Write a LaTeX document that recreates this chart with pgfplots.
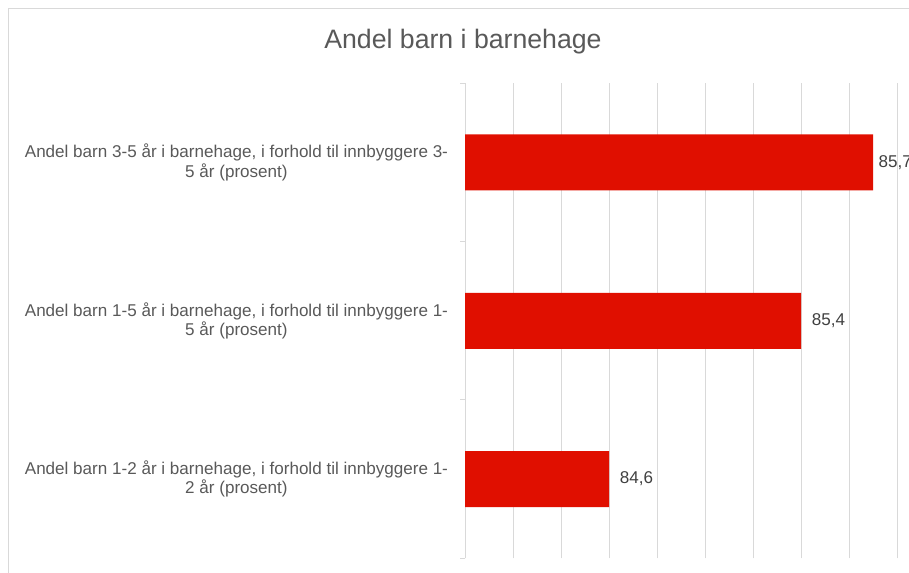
\documentclass[border=0pt]{standalone}
\usepackage{fontspec}
\setmainfont{Liberation Sans}
\usepackage{pgfplots}
\pgfplotsset{compat=1.18}
\definecolor{barred}{HTML}{E00F00}
\definecolor{gridgray}{HTML}{D9D9D9}
\definecolor{labelgray}{HTML}{595959}
\definecolor{valgray}{HTML}{404040}
\begin{document}
\begin{tikzpicture}[x=0.75pt,y=0.75pt]
\useasboundingbox (0,0) rectangle (909,573);
\clip (0,0) rectangle (909,573);
% chart frame (only top and left visible)
\draw[gridgray, line width=0.75pt] (8.3,-5) -- (8.3,564.3) -- (915,564.3);
\node[text=labelgray, font=\fontsize{20}{24}\selectfont, anchor=base] at (463,524.7) {Andel barn i barnehage};
\begin{axis}[
  at={(348.75pt,11.03pt)}, anchor=south west,
  scale only axis, width=333pt, height=356.25pt,
  xmin=84, xmax=85.85, ymin=-0.5, ymax=2.5,
  axis line style={draw=none},
  xtick={84,84.2,84.4,84.6,84.8,85,85.2,85.4,85.6,85.8},
  xticklabels={},
  xmajorgrids, major grid style={gridgray, line width=0.75pt},
  ytick={0,1,2},
  yticklabels={
    {Andel barn 1-2 år i barnehage, i forhold til innbyggere 1-\\2 år (prosent)},
    {Andel barn 1-5 år i barnehage, i forhold til innbyggere 1-\\5 år (prosent)},
    {Andel barn 3-5 år i barnehage, i forhold til innbyggere 3-\\5 år (prosent)}},
  major tick length=0pt,
  minor ytick={-0.5,0.5,1.5,2.5},
  minor tick length=3.75pt, tick align=outside, ytick pos=left,
  minor tick style={gridgray, line width=0.75pt},
  yticklabel style={align=center, text=labelgray, font=\fontsize{12.8}{14.55}\selectfont, xshift=-9.2pt},
  xbar, bar width=42pt,
  nodes near coords,
  visualization depends on={value \thisrow{s} \as \lblshift},
  nodes near coords style={text=valgray, font=\fontsize{12.8}{15}\selectfont, anchor=west, xshift=\lblshift pt,
    /pgf/number format/.cd, fixed, precision=1, zerofill, use comma, assume math mode=true},
]
\addplot[xbar, fill=barred, draw=none] table[x=v, y=c] {
c v s
0 84.6 4.7
1 85.4 4.7
2 85.7 0.7
};
\end{axis}
\end{tikzpicture}
\end{document}
